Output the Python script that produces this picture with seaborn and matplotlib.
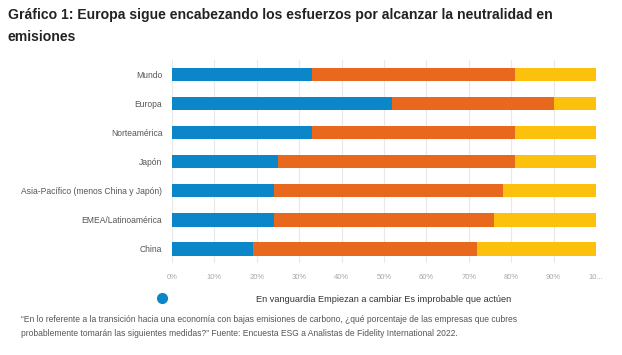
import numpy as np
import pandas as pd
import matplotlib
matplotlib.use("Agg")
import matplotlib.pyplot as plt
from matplotlib.lines import Line2D
import seaborn as sns

# - Data -
regiones = ["Mundo", "Europa", "Norteamérica", "Japón",
            "Asia-Pacífico (menos China y Japón)", "EMEA/Latinoamérica", "China"]
en_vanguardia = [33, 52, 33, 25, 24, 24, 19]
empiezan_a_cambiar = [48, 38, 48, 56, 54, 52, 53]
improbable = [19, 10, 19, 19, 22, 24, 28]
tick_pos = [0, 10, 20, 30, 40, 50, 60, 70, 80, 90, 100]
tick_txt = ["0%", "10%", "20%", "30%", "40%", "50%", "60%", "70%", "80%", "90%", "10..."]

series_names = ["En vanguardia", "Empiezan a cambiar", "Es improbable que actúen"]
colors = ["#0b86c8", "#e8691d", "#fbc10d"]

df = pd.DataFrame({"region": regiones,
                   "a": en_vanguardia,
                   "b": empiezan_a_cambiar,
                   "c": improbable})
df["cum_a"] = df["a"]
df["cum_b"] = df["a"] + df["b"]
df["cum_c"] = df["a"] + df["b"] + df["c"]

sns.set_style("white")
plt.rcParams["font.family"] = ["Liberation Sans", "DejaVu Sans"]

fig = plt.figure(figsize=(6.22, 3.55), dpi=100)
ax = fig.add_axes([0.2765, 0.259, 0.6817, 0.572])

# stacked bars: draw totals first, then shorter ones on top
for col, c in zip(["cum_c", "cum_b", "cum_a"], colors[::-1]):
    sns.barplot(data=df, x=col, y="region", orient="h", color=c,
                width=0.48, saturation=1, linewidth=0, ax=ax, zorder=3)

ax.set_xlim(0, 100)
ax.set_ylim(6.5, -0.5)
ax.set_xticks(tick_pos)
ax.set_xticklabels(tick_txt, fontsize=5.5, color="#a8a8a8")
ax.tick_params(axis="x", length=0, pad=8)
ax.tick_params(axis="y", length=0, pad=7, labelsize=6.15, labelcolor="#555555")
ax.set_xlabel("")
ax.set_ylabel("")
ax.grid(axis="x", color="#e8e8e8", linewidth=0.8, zorder=0)
ax.set_axisbelow(True)
for s in ax.spines.values():
    s.set_visible(False)

# - Title -
fig.text(8 / 622, 1 - 15 / 355,
         "Gráfico 1: Europa sigue encabezando los esfuerzos por alcanzar la neutralidad en",
         fontsize=10.1, fontweight="bold", color="#222222", va="center")
fig.text(8 / 622, 1 - 37 / 355, "emisiones",
         fontsize=10.1, fontweight="bold", color="#222222", va="center")

# - Legend (dot + text) -
fig.add_artist(Line2D([162 / 622], [1 - 298 / 355], marker="o", markersize=7,
                      color=colors[0], linestyle="none", transform=fig.transFigure))
fig.text(384 / 622, 1 - 299 / 355, " ".join(series_names),
         fontsize=6.6, color="#333333", ha="center", va="center")

# - Source note -
fig.text(21 / 622, 1 - 319 / 355,
         "\u201cEn lo referente a la transición hacia una economía con bajas emisiones de carbono, "
         "¿qué porcentaje de las empresas que cubres",
         fontsize=6.15, color="#555555", va="center")
fig.text(21 / 622, 1 - 334 / 355,
         "probablemente tomarán las siguientes medidas?\u201d Fuente: Encuesta ESG a Analistas de "
         "Fidelity International 2022.",
         fontsize=6.15, color="#555555", va="center")

fig.savefig("out.png", dpi=100)
